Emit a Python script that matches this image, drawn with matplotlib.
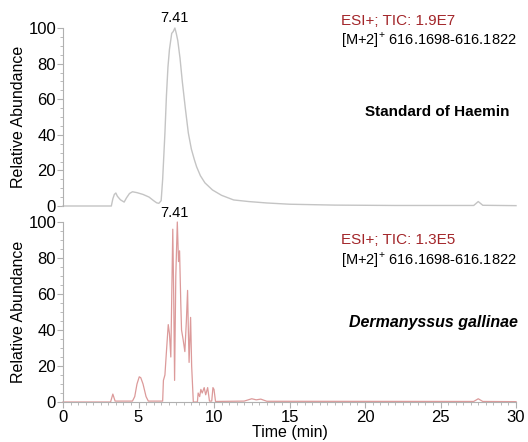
import matplotlib
matplotlib.use("Agg")
import matplotlib.pyplot as plt
from matplotlib.ticker import MultipleLocator

plt.rcParams['font.family'] = ['Liberation Sans', 'DejaVu Sans']
plt.rcParams['mathtext.fontset'] = 'custom'
plt.rcParams['mathtext.rm'] = 'Liberation Sans'

# Standard of Haemin (time min, relative abundance)
std_t = [0, 3.2, 3.3, 3.4, 3.5, 3.6, 3.8, 4.05, 4.2, 4.4, 4.6, 4.9, 5.3, 5.7, 6.0, 6.2, 6.35, 6.5,
         6.6, 6.75, 6.85, 6.95, 7.05, 7.2, 7.3, 7.41, 7.5, 7.6, 7.75, 7.9, 8.1, 8.3, 8.5, 8.7, 8.85,
         9.1, 9.4, 9.9, 10.5, 11.3, 12.3, 13.5, 15, 18, 22, 27.2, 27.5, 27.8, 30]
std_v = [0, 0, 4, 6.5, 7.3, 5.5, 3.5, 2.2, 4.5, 7, 8, 7.5, 6.5, 5, 3, 1.8, 1.5, 3,
         15, 41, 62, 78, 88, 97, 98, 100, 97, 93, 83, 70, 55, 41, 32, 26, 22,
         17, 13, 9, 6, 3.4, 2.5, 1.7, 1, 0.5, 0.3, 0.3, 2.5, 0.4, 0.2]

# Dermanyssus gallinae
dg_t = [0, 3.15, 3.3, 3.45, 4.6, 4.75, 4.9, 5.05, 5.15, 5.3, 5.5, 5.65, 6.6, 6.65, 6.75, 6.85,
        6.97, 7.05, 7.14, 7.27, 7.33, 7.39, 7.47, 7.57, 7.65, 7.72, 7.8, 7.85, 7.95, 8.07, 8.17,
        8.25, 8.3, 8.35, 8.45, 8.52, 8.63, 8.9, 8.95, 9.05, 9.13, 9.22, 9.35, 9.45, 9.58, 9.7,
        9.85, 9.93, 10.0, 10.1, 12.0, 12.5, 12.8, 13.1, 13.5, 27.2, 27.5, 27.8, 30]
dg_v = [0, 0, 4.4, 0.5, 0.5, 3, 10, 14, 13.5, 10, 3, 0.5, 0.5, 12, 15, 28,
        43, 38, 25, 96, 60, 12, 70, 100, 78, 84, 55, 40, 35, 28, 45,
        62, 40, 22, 47, 20, 0, 0, 5, 3, 7, 5, 8, 4, 8, 0.5,
        0.5, 8, 7, 0.3, 0.5, 1.8, 1.2, 1.6, 0.4, 0.3, 1.8, 0.3, 0.2]

xticks = [0, 5, 10, 15, 20, 25, 30]
yticks = [0, 20, 40, 60, 80, 100]
peak_label = "7.41"
peak_time = 7.41
red_txt = "#a3262a"

fig = plt.figure(figsize=(5.28, 4.42), dpi=100)
ax1 = fig.add_axes([63/528, 1-206/442, (516-63)/528, (206-28)/442])
ax2 = fig.add_axes([63/528, 1-402/442, (516-63)/528, (402-222)/442])

for ax in (ax1, ax2):
    ax.set_xlim(0, 30)
    ax.set_ylim(0, 100)
    ax.spines['top'].set_visible(False)
    ax.spines['right'].set_visible(False)
    ax.spines['left'].set_color('#b0b0b0')
    ax.spines['bottom'].set_color('#b0b0b0')
    ax.set_yticks(yticks)
    ax.yaxis.set_minor_locator(MultipleLocator(5))
    ax.tick_params(axis='y', which='major', length=4, color='#b0b0b0', labelsize=12, pad=1)
    ax.tick_params(axis='y', which='minor', length=2.5, color='#b0b0b0')
    ax.set_ylabel("Relative Abundance", fontsize=11.5, labelpad=2)

ax1.plot(std_t, std_v, color='#c4c4c4', lw=1.0, clip_on=False)
ax1.spines['bottom'].set_visible(False)
ax1.set_xticks([])
ax1.text(peak_time, 101.5, peak_label, ha='center', va='bottom', fontsize=10.5)
ax1.text(18.4, 104, "ESI+; TIC: 1.9E7", color=red_txt, fontsize=11, ha='left', va='center')
ax1.text(18.4, 93, "[M+2]$^{+}$ 616.1698-616.1822", color='black', fontsize=10.5, ha='left', va='center')
ax1.text(29.6, 53, "Standard of Haemin", fontsize=11, fontweight='bold', ha='right', va='center')

ax2.plot(dg_t, dg_v, color='#dc9a9a', lw=0.9, clip_on=False)
ax2.set_xticks(xticks)
ax2.xaxis.set_minor_locator(MultipleLocator(0.5))
ax2.tick_params(axis='x', which='major', length=4, color='#b0b0b0', labelsize=12, pad=2)
ax2.tick_params(axis='x', which='minor', length=2.5, color='#b0b0b0')
ax2.text(peak_time, 101, peak_label, ha='center', va='bottom', fontsize=10.5)
ax2.text(18.4, 90, "ESI+; TIC: 1.3E5", color=red_txt, fontsize=11, ha='left', va='center')
ax2.text(18.4, 79, "[M+2]$^{+}$ 616.1698-616.1822", color='black', fontsize=10.5, ha='left', va='center')
ax2.text(30.1, 44, "Dermanyssus gallinae", fontsize=11.5, fontweight='bold', fontstyle='italic',
         ha='right', va='center')
ax2.set_xlabel("Time (min)", fontsize=11.5, labelpad=0)

fig.savefig("out.png", dpi=100)
